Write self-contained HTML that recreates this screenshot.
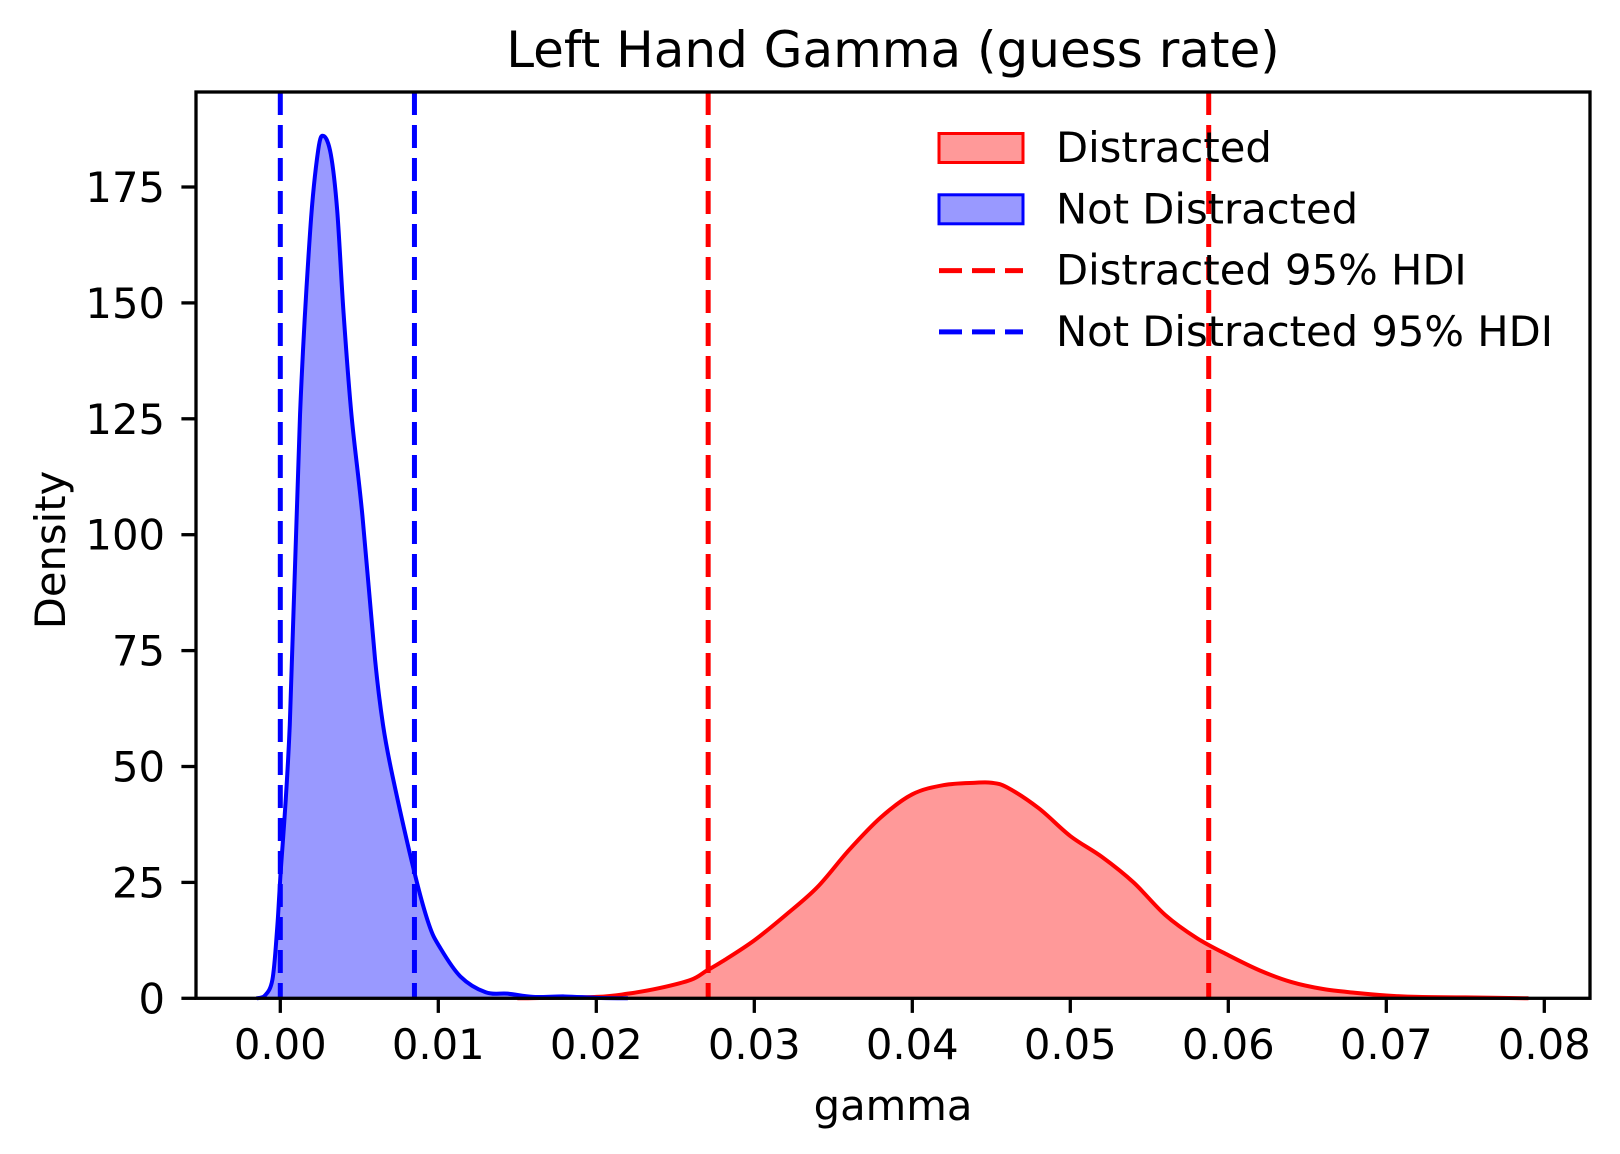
<!DOCTYPE html>
<html><head><meta charset="utf-8"><style>
html,body{margin:0;padding:0;background:#fff;}
svg{display:block;font-family:"DejaVu Sans","Liberation Sans",sans-serif;}
</style></head><body>
<svg id="chart" width="1620" height="1154" viewBox="0 0 1620 1154" xmlns="http://www.w3.org/2000/svg">
<rect width="1620" height="1154" fill="#fff"/>
<g id="plot"></g>
<text x="893" y="67" font-size="50" text-anchor="middle">Left Hand Gamma (guess rate)</text>
<text x="893" y="1120" font-size="41.7" text-anchor="middle">gamma</text>
<text transform="translate(65,550) rotate(-90)" font-size="41.7" text-anchor="middle">Density</text>
</svg>
<script>
const xTicks = [0.00,0.01,0.02,0.03,0.04,0.05,0.06,0.07,0.08];
const xTickLabels = ["0.00","0.01","0.02","0.03","0.04","0.05","0.06","0.07","0.08"];
const yTicks = [0,25,50,75,100,125,150,175];
const yTickLabels = ["0","25","50","75","100","125","150","175"];
const blueX = [-0.0015,-0.001,-0.0005,-0.0002,0,0.0006,0.00125,0.0019,0.0024,0.00275,0.0032,0.0036,0.004,0.0045,0.0052,0.006,0.0065,0.0071,0.0085,0.0094,0.0101,0.0114,0.013,0.0144,0.016,0.018,0.02,0.022];
const blueY = [0,0.5,4,15,26,59,126,166,183,186,182,170,148,126,104,73,59,48,27,16,11,4.7,1.3,1.0,0.3,0.4,0.1,0];
const redX = [0.015,0.02,0.022,0.024,0.026,0.027,0.028,0.03,0.032,0.034,0.036,0.038,0.04,0.042,0.044,0.045,0.046,0.048,0.05,0.052,0.054,0.056,0.058,0.06,0.062,0.064,0.066,0.068,0.07,0.072,0.075,0.079];
const redY = [0,0.3,1,2.2,4,6,8,12.5,18,24,32,39,44,46,46.5,46.5,45.5,41,35,30.5,25,18,13,9.3,6,3.5,2,1.2,0.6,0.3,0.2,0];
const blueHDI = [0.0, 0.00849];
const redHDI = [0.02708, 0.05876];

const L=196, R=1590, T=92, B=998.3;
const sx = v => 280.3 + v*15800;
const sy = v => B - v*4.636;
const NS="http://www.w3.org/2000/svg";
const g=document.getElementById('plot');
function mk(tag, attrs){const e=document.createElementNS(NS,tag);for(const k in attrs)e.setAttribute(k,attrs[k]);g.appendChild(e);return e;}

function smooth(xs, ys){
  const p=xs.map((x,i)=>[sx(x),sy(ys[i])]);
  let d=`M${p[0][0]},${p[0][1]}`;
  for(let i=0;i<p.length-1;i++){
    const p0=p[Math.max(0,i-1)],p1=p[i],p2=p[i+1],p3=p[Math.min(p.length-1,i+2)];
    const c1=[p1[0]+(p2[0]-p0[0])/6,p1[1]+(p2[1]-p0[1])/6];
    const c2=[p2[0]-(p3[0]-p1[0])/6,p2[1]-(p3[1]-p1[1])/6];
    d+=` C${c1[0]},${Math.min(c1[1],B)} ${c2[0]},${Math.min(c2[1],B)} ${p2[0]},${p2[1]}`;
  }
  return d;
}
function series(xs, ys, fill, stroke, name){
  const d=smooth(xs,ys);
  const f=mk('path',{d:d+` L${sx(xs[xs.length-1])},${B} L${sx(xs[0])},${B} Z`,fill:fill,stroke:'none'});
  
  
  const l=mk('path',{d:d,fill:'none',stroke:stroke,'stroke-width':4,'stroke-linejoin':'round'});
  
  
}
series(redX, redY, '#ff9999', '#ff0000', 'distracted-density');
series(blueX, blueY, '#9999ff', '#0000ff', 'not-distracted-density');

function hdi(arr,color,name){
  arr.forEach((v,i)=>{
    const e=mk('line',{x1:sx(v),x2:sx(v),y1:T,y2:B,stroke:color,'stroke-width':5,'stroke-dasharray':'23 10'});
    
    
  });
}
hdi(redHDI,'#ff0000','distracted-hdi');
hdi(blueHDI,'#0000ff','not-distracted-hdi');

const fr=mk('rect',{x:L,y:T,width:R-L,height:B-T,fill:'none',stroke:'#000','stroke-width':3.3});



xTicks.forEach((v,i)=>{
  const t=mk('line',{x1:sx(v),x2:sx(v),y1:B,y2:B+14.6,stroke:'#000','stroke-width':3.3});
  
  
  const tx=mk('text',{x:sx(v),y:1059,'font-size':41.7,'text-anchor':'middle'});
  tx.textContent=xTickLabels[i];
  
  
});
yTicks.forEach((v,i)=>{
  const t=mk('line',{x1:L-14.6,x2:L,y1:sy(v),y2:sy(v),stroke:'#000','stroke-width':3.3});
  
  
  const tx=mk('text',{x:165,y:sy(v)+15,'font-size':41.7,'text-anchor':'end'});
  tx.textContent=yTickLabels[i];
  
  
});

const legend=[["Distracted","patch","#ff9999","#ff0000"],["Not Distracted","patch","#9999ff","#0000ff"],["Distracted 95% HDI","line",null,"#ff0000"],["Not Distracted 95% HDI","line",null,"#0000ff"]];
legend.forEach((e,i)=>{
  const cy=148+i*61.3;
  let h;
  if(e[1]==='patch') h=mk('rect',{x:939,y:cy-14.5,width:84,height:29,fill:e[2],stroke:e[3],'stroke-width':3});
  else h=mk('line',{x1:939,x2:1023,y1:cy,y2:cy,stroke:e[3],'stroke-width':5,'stroke-dasharray':'23 10'});
  
  
  const t=mk('text',{x:1056,y:cy+14,'font-size':41.7});
  t.textContent=e[0];
  
  
});
</script>
</body></html>
